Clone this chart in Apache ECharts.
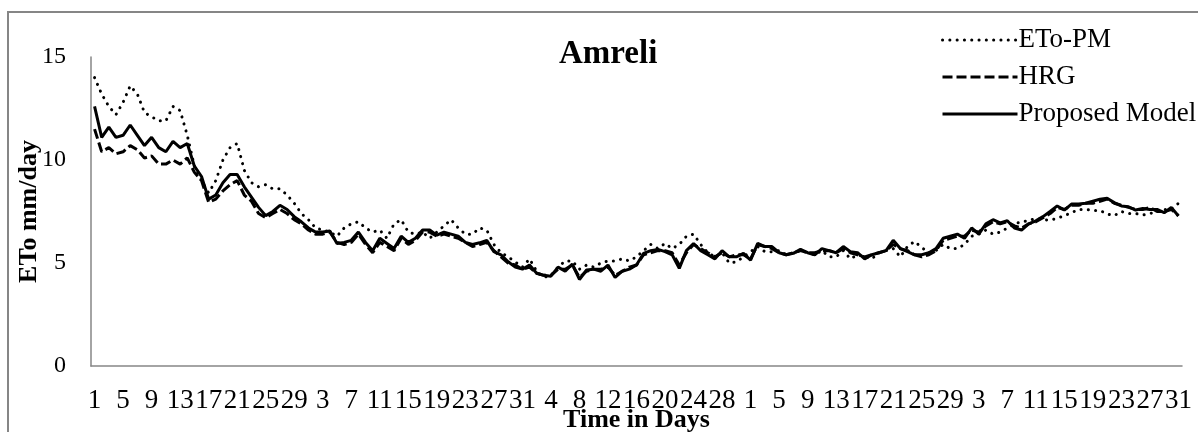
<!DOCTYPE html>
<html>
<head>
<meta charset="utf-8">
<script src="https://cdn.jsdelivr.net/npm/echarts@6/dist/echarts.min.js"></script>
<style>
html, body { margin: 0; padding: 0; background: #fff; }
#chart { width: 1198px; height: 432px; }
</style>
</head>
<body>
<div id="chart"></div>
<script>
// 月份天数（5个月，共153天）
var monthDays = [30, 31, 31, 30, 31];

// ETo-PM
var etoPM = [
    14.0, 13.2, 12.6, 12.2, 12.8, 13.6, 13.2, 12.3, 12.1, 11.9,
    11.9, 12.6, 12.4, 11.2, 9.7, 9.0, 8.4, 9.0, 10.0, 10.6,
    10.8, 9.5, 8.9, 8.7, 8.8, 8.6, 8.6, 8.3, 7.9, 7.4,
    7.1, 6.7, 6.6, 6.5, 6.3, 6.7, 6.9, 7.0, 6.7, 6.5,
    6.6, 6.2, 6.9, 7.1, 6.5, 6.4, 6.5, 6.2, 6.5, 6.8,
    7.1, 6.7, 6.4, 6.4, 6.7, 6.6, 5.9, 5.5, 5.3, 5.05,
    4.8, 5.2, 4.6, 4.3, 4.4, 4.8, 5.1, 5.1, 4.7, 4.9,
    4.8, 5.0, 5.1, 5.1, 5.2, 5.1, 5.3, 5.6, 5.9, 5.7,
    5.95, 5.7, 5.9, 6.3, 6.4, 5.9, 5.5, 5.3, 5.5, 5.0,
    5.05, 5.3, 5.55, 5.8, 5.55, 5.55, 5.6, 5.4, 5.5, 5.6,
    5.5, 5.4, 5.6, 5.3, 5.3, 5.6, 5.2, 5.4, 5.3, 5.2,
    5.5, 5.6, 5.7, 5.3, 5.8, 6.05, 5.75, 5.5, 5.6, 5.9,
    5.7, 5.7, 5.9, 6.3, 6.4, 6.6, 6.4, 6.5, 6.7, 6.9,
    7.0, 7.05, 7.17, 7.1, 7.08, 7.17, 7.3, 7.44, 7.6, 7.6,
    7.55, 7.55, 7.38, 7.3, 7.5, 7.4, 7.4, 7.33, 7.4, 7.5,
    7.6, 7.6, 7.9
];

// HRG
var hrg = [
    11.5, 10.4, 10.6, 10.3, 10.4, 10.7, 10.5, 10.1, 10.2, 9.8,
    9.8, 10.0, 9.8, 10.1, 9.4, 9.0, 7.95, 8.1, 8.5, 8.8,
    9.0, 8.3, 8.0, 7.4, 7.2, 7.4, 7.6, 7.4, 7.1, 6.9,
    6.6,
    6.4, 6.4, 6.5, 6.0, 5.9, 6.0, 6.4, 5.9, 5.5, 6.0,
    5.8, 5.6, 6.2, 5.9, 6.1, 6.5, 6.5, 6.3, 6.4, 6.3,
    6.2, 6.0, 5.8, 5.9, 6.0, 5.6, 5.3, 5.0, 4.9, 4.7,
    4.8, 4.5, 4.4, 4.4, 4.7, 4.7, 4.9, 4.3, 4.6, 4.7,
    4.7, 4.8, 4.4, 4.6, 4.8, 4.9,
    5.4, 5.5, 5.6, 5.6, 5.5, 4.9, 5.5, 5.9, 5.7, 5.5,
    5.3, 5.5, 5.3, 5.4, 5.4, 5.2, 5.9, 5.8, 5.7, 5.5,
    5.4, 5.5, 5.6, 5.5, 5.5,
    5.6, 5.6, 5.5, 5.7, 5.5, 5.4, 5.3, 5.4, 5.5, 5.6,
    5.9, 5.7, 5.6, 5.4, 5.3, 5.4, 5.6, 6.1, 6.2, 6.3,
    6.3, 6.6, 6.5, 6.8, 7.0, 6.9,
    7.0, 6.8, 6.7, 6.9, 7.0, 7.2, 7.4, 7.7, 7.6, 7.8,
    7.8, 7.9, 7.9, 8.0, 8.1, 7.9, 7.8, 7.7, 7.6, 7.6,
    7.7, 7.5, 7.5, 7.6, 7.3
];

// Proposed Model
var proposed = [
    12.6, 11.1, 11.6, 11.1, 11.2, 11.7, 11.2, 10.7, 11.1, 10.6,
    10.4, 10.9, 10.6, 10.8, 9.7, 9.2, 8.1, 8.3, 8.9, 9.3,
    9.3, 8.7, 8.2, 7.7, 7.3, 7.5, 7.8, 7.6, 7.25, 7.0,
    6.7,
    6.5, 6.5, 6.55, 5.95, 6.0, 6.1, 6.5, 6.0, 5.6, 6.2,
    5.95, 5.7, 6.3, 6.0, 6.2, 6.6, 6.6, 6.35, 6.5, 6.4,
    6.3, 6.0, 5.9, 5.98, 6.1, 5.55, 5.4, 5.06, 4.8, 4.7,
    4.9, 4.5, 4.4, 4.36, 4.8, 4.6, 4.95, 4.2, 4.66, 4.7,
    4.6, 4.9, 4.3, 4.6, 4.7, 4.9,
    5.47, 5.6, 5.66, 5.55, 5.4, 4.74, 5.6, 5.95, 5.6, 5.4,
    5.2, 5.6, 5.3, 5.3, 5.47, 5.14, 5.95, 5.8, 5.8, 5.5,
    5.4, 5.47, 5.66, 5.5, 5.4,
    5.7, 5.6, 5.5, 5.8, 5.55, 5.5, 5.2, 5.4, 5.5, 5.6,
    6.1, 5.7, 5.55, 5.4, 5.4, 5.5, 5.7, 6.2, 6.3, 6.4,
    6.2, 6.7, 6.4, 6.9, 7.1, 6.95,
    7.05, 6.7, 6.6, 6.9, 7.05, 7.25, 7.5, 7.77, 7.57, 7.86,
    7.86, 7.9, 8.0, 8.1, 8.14, 7.93, 7.77, 7.73, 7.57, 7.65,
    7.6, 7.6, 7.44, 7.7, 7.28
];

var yTicks = [0, 5, 10, 15];

// 横轴类目：月-日，标签只显示日
var categories = [];
for (var m = 0; m < monthDays.length; m++) {
    for (var d = 1; d <= monthDays[m]; d++) {
        categories.push((m + 1) + '-' + d);
    }
}

var serif = 'Liberation Serif, Times New Roman, serif';
var myChart = echarts.init(document.getElementById('chart'));

var option = {
    backgroundColor: '#fff',
    animation: false,
    title: {
        text: 'Amreli',
        left: 554,
        top: 33,
        textStyle: { fontFamily: serif, fontSize: 33, fontWeight: 'bold', color: '#000' }
    },
    legend: {
        orient: 'vertical',
        left: 936,
        top: 20,
        itemWidth: 75,
        itemHeight: 14,
        itemGap: 7,
        data: ['ETo-PM', 'HRG', 'Proposed Model'],
        itemStyle: { opacity: 0 },
        lineStyle: { width: 3 },
        textStyle: { fontFamily: serif, fontSize: 27, color: '#000', lineHeight: 30, padding: [0, 0, 0, -4] }
    },
    graphic: [{
        type: 'rect',
        shape: { x: 8, y: 12, width: 1300, height: 500 },
        style: { fill: 'none', stroke: '#868686', lineWidth: 2 },
        silent: true
    }],
    grid: {
        left: 91,
        right: 16,
        top: 57,
        bottom: 66,
        outerBoundsMode: 'none'
    },
    xAxis: {
        type: 'category',
        data: categories,
        boundaryGap: true,
        name: 'Time in Days',
        nameLocation: 'middle',
        nameGap: 41,
        nameMoveOverlap: false,
        nameTextStyle: { fontFamily: serif, fontSize: 26, fontWeight: 'bold', color: '#000' },
        axisLine: { lineStyle: { color: '#868686', width: 1.5 } },
        axisTick: { show: false },
        axisLabel: {
            interval: 3,
            margin: 21,
            fontFamily: serif,
            fontSize: 27,
            color: '#000',
            formatter: function (v) { return v.split('-')[1]; }
        },
        splitLine: { show: false }
    },
    yAxis: {
        type: 'value',
        min: yTicks[0],
        max: yTicks[yTicks.length - 1],
        interval: 5,
        name: 'ETo mm/day',
        nameLocation: 'middle',
        nameGap: 49,
        nameMoveOverlap: false,
        nameTextStyle: { fontFamily: serif, fontSize: 26, fontWeight: 'bold', color: '#000' },
        axisLine: { show: true, lineStyle: { color: '#868686', width: 1.5 } },
        axisTick: { show: false },
        axisLabel: { margin: 25, fontFamily: serif, fontSize: 24, color: '#000' },
        splitLine: { show: false }
    },
    series: [{
        name: 'ETo-PM',
        type: 'line',
        data: etoPM,
        symbol: 'none',
        lineStyle: { color: '#000', width: 3, type: [0.1, 7.2], cap: 'round' },
        itemStyle: { color: '#000' }
    }, {
        name: 'HRG',
        type: 'line',
        data: hrg,
        symbol: 'none',
        lineStyle: { color: '#000', width: 3, type: [10, 4] },
        itemStyle: { color: '#000' }
    }, {
        name: 'Proposed Model',
        type: 'line',
        data: proposed,
        symbol: 'none',
        lineStyle: { color: '#000', width: 3 },
        itemStyle: { color: '#000' }
    }]
};

myChart.setOption(option);
</script>
</body>
</html>
